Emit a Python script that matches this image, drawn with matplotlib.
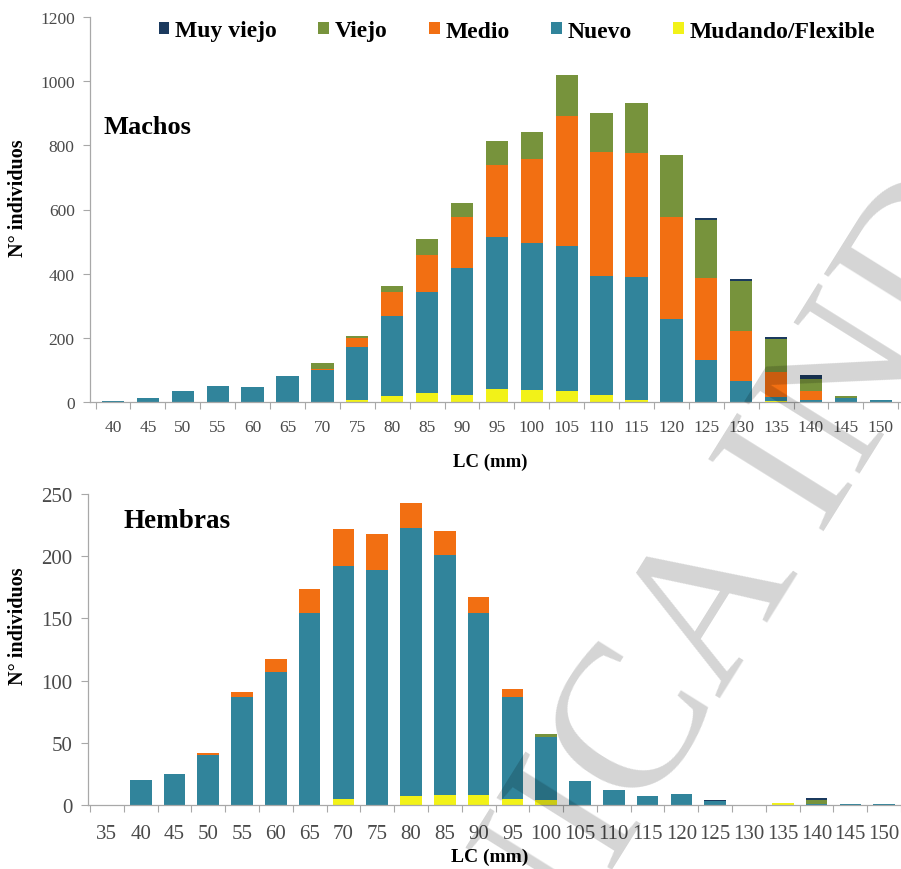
import numpy as np
import matplotlib
matplotlib.use("Agg")
import matplotlib.pyplot as plt
from matplotlib.patches import Patch

# ---- data -------------------------------------------------------------
series_names = ["Muy viejo", "Viejo", "Medio", "Nuevo", "Mudando/Flexible"]

machos_lc = ["40", "45", "50", "55", "60", "65", "70", "75", "80", "85", "90", "95",
             "100", "105", "110", "115", "120", "125", "130", "135", "140", "145", "150"]
machos_mudando = [0, 0, 0, 0, 0, 0, 0, 5, 20, 27, 22, 40, 38, 35, 23, 5, 0, 0, 0, 3, 0, 0, 0]
machos_nuevo = [2, 12, 35, 51, 46, 80, 100, 166, 249, 317, 395, 473, 457, 452, 369, 384,
                259, 132, 66, 12, 5, 12, 5]
machos_medio = [0, 0, 0, 0, 0, 0, 4, 30, 73, 114, 159, 227, 262, 403, 386, 387, 317, 255,
                156, 79, 30, 0, 0]
machos_viejo = [0, 0, 0, 0, 0, 0, 18, 6, 19, 50, 44, 75, 86, 129, 122, 156, 195, 181, 156,
                103, 38, 6, 2]
machos_muy_viejo = [0, 0, 0, 0, 0, 0, 0, 0, 0, 0, 0, 0, 0, 0, 0, 0, 0, 5, 5, 5, 11, 2, 0]

hembras_lc = ["35", "40", "45", "50", "55", "60", "65", "70", "75", "80", "85", "90", "95",
              "100", "105", "110", "115", "120", "125", "130", "135", "140", "145", "150"]
hembras_mudando = [0, 0, 0, 0, 0, 0, 0, 5, 0, 7, 8, 8, 5, 4, 0, 0, 0, 0, 0, 0, 2, 0, 0, 0]
hembras_nuevo = [0, 20, 25, 40, 87, 107, 154, 187, 189, 216, 193, 146, 82, 51, 19, 12, 7,
                 9, 3, 0, 0, 1, 1, 1]
hembras_medio = [0, 0, 0, 2, 4, 10, 20, 30, 29, 20, 19, 13, 6, 0, 0, 0, 0, 0, 0, 0, 0, 0,
                 0, 0]
hembras_viejo = [0, 0, 0, 0, 0, 0, 0, 0, 0, 0, 0, 0, 0, 2, 0, 0, 0, 0, 0, 0, 0, 3, 0, 0]
hembras_muy_viejo = [0, 0, 0, 0, 0, 0, 0, 0, 0, 0, 0, 0, 0, 0, 0, 0, 0, 0, 1, 0, 0, 2, 0, 0]

# ---- style ------------------------------------------------------------
colors = {
    "Muy viejo": "#1b3a5e",
    "Viejo": "#77933c",
    "Medio": "#f26f12",
    "Nuevo": "#31849b",
    "Mudando/Flexible": "#f2f218",
}
SERIF = ["Liberation Serif", "DejaVu Serif"]
TICK_COLOR = "#4a4a4a"
AXIS_COLOR = "#a8a8a8"

W, H = 901, 870
fig = plt.figure(figsize=(W / 100, H / 100), dpi=100)


def px_axes(left, top, right, bottom):
    return fig.add_axes([left / W, 1 - bottom / H, (right - left) / W, (bottom - top) / H])


def stacked(ax, labels, stacks, xlim, ylim, yticks, tick_fs, xpad):
    x = np.arange(len(labels))
    base = np.zeros(len(labels))
    for name, vals in stacks:
        vals = np.asarray(vals, dtype=float)
        ax.bar(x, vals, width=0.64, bottom=base, color=colors[name], linewidth=0, zorder=2)
        base += vals
    ax.set_xlim(*xlim)
    ax.set_ylim(*ylim)
    ax.set_yticks(yticks)
    ax.set_xticks(x)
    ax.set_xticklabels(labels)
    ax.set_xticks(np.arange(len(labels) + 1) - 0.5, minor=True)
    ax.tick_params(axis="x", which="major", length=0, pad=xpad, labelsize=tick_fs,
                   labelcolor=TICK_COLOR)
    ax.tick_params(axis="x", which="minor", length=5, width=0.8, color=AXIS_COLOR)
    ax.tick_params(axis="y", length=5, width=0.8, color=AXIS_COLOR, labelsize=tick_fs,
                   labelcolor=TICK_COLOR, pad=6)
    for lab in ax.get_xticklabels() + ax.get_yticklabels():
        lab.set_family(SERIF)
    for s in ("top", "right"):
        ax.spines[s].set_visible(False)
    for s in ("left", "bottom"):
        ax.spines[s].set_color(AXIS_COLOR)
        ax.spines[s].set_linewidth(0.9)


# ---- Machos -------------------------------------------------------------
ax1 = px_axes(90, 18, 901, 403)
stacked(ax1, machos_lc,
        [("Mudando/Flexible", machos_mudando), ("Nuevo", machos_nuevo),
         ("Medio", machos_medio), ("Viejo", machos_viejo), ("Muy viejo", machos_muy_viejo)],
        (-0.66, 22.58), (0, 1200), np.arange(0, 1201, 200), 12.5, 12)
fig.text(103 / W, 1 - 127 / H, "Machos", family=SERIF, weight="bold", fontsize=19,
         va="center", ha="left")
fig.text(490 / W, 1 - 462 / H, "LC (mm)", family=SERIF, weight="bold", fontsize=13.5,
         va="center", ha="center")
fig.text(18 / W, 1 - 198 / H, "N° individuos", family=SERIF, weight="bold", fontsize=14.5,
         va="center", ha="center", rotation=90)

# ---- Hembras ------------------------------------------------------------
ax2 = px_axes(88, 495, 901, 806)
stacked(ax2, hembras_lc,
        [("Mudando/Flexible", hembras_mudando), ("Nuevo", hembras_nuevo),
         ("Medio", hembras_medio), ("Viejo", hembras_viejo),
         ("Muy viejo", hembras_muy_viejo)],
        (-0.56, 23.42), (0, 250), np.arange(0, 251, 50), 15, 14)
fig.text(123 / W, 1 - 522 / H, "Hembras", family=SERIF, weight="bold", fontsize=19.5,
         va="center", ha="left")
fig.text(490 / W, 1 - 857 / H, "LC (mm)", family=SERIF, weight="bold", fontsize=14,
         va="center", ha="center")
fig.text(18 / W, 1 - 626 / H, "N° individuos", family=SERIF, weight="bold", fontsize=14.5,
         va="center", ha="center", rotation=90)

# ---- legend -------------------------------------------------------------
handles = [Patch(facecolor=colors[n], edgecolor="none") for n in series_names]
fig.legend(handles, series_names, loc="center", bbox_to_anchor=(517 / W, 1 - 32 / H),
           ncol=5, frameon=False, handlelength=0.45, handleheight=0.45,
           handletextpad=0.25, columnspacing=1.75,
           prop={"family": SERIF, "weight": "bold", "size": 17})

# ---- diagonal stamp across the lower right ------------------------------
fig.text(690 / W, 1 - 650 / H, "ONICA IND", family=SERIF, fontsize=150, color="black",
         alpha=0.17, rotation=58, rotation_mode="anchor", ha="center", va="center",
         zorder=100)

fig.savefig("out.png", dpi=100)
